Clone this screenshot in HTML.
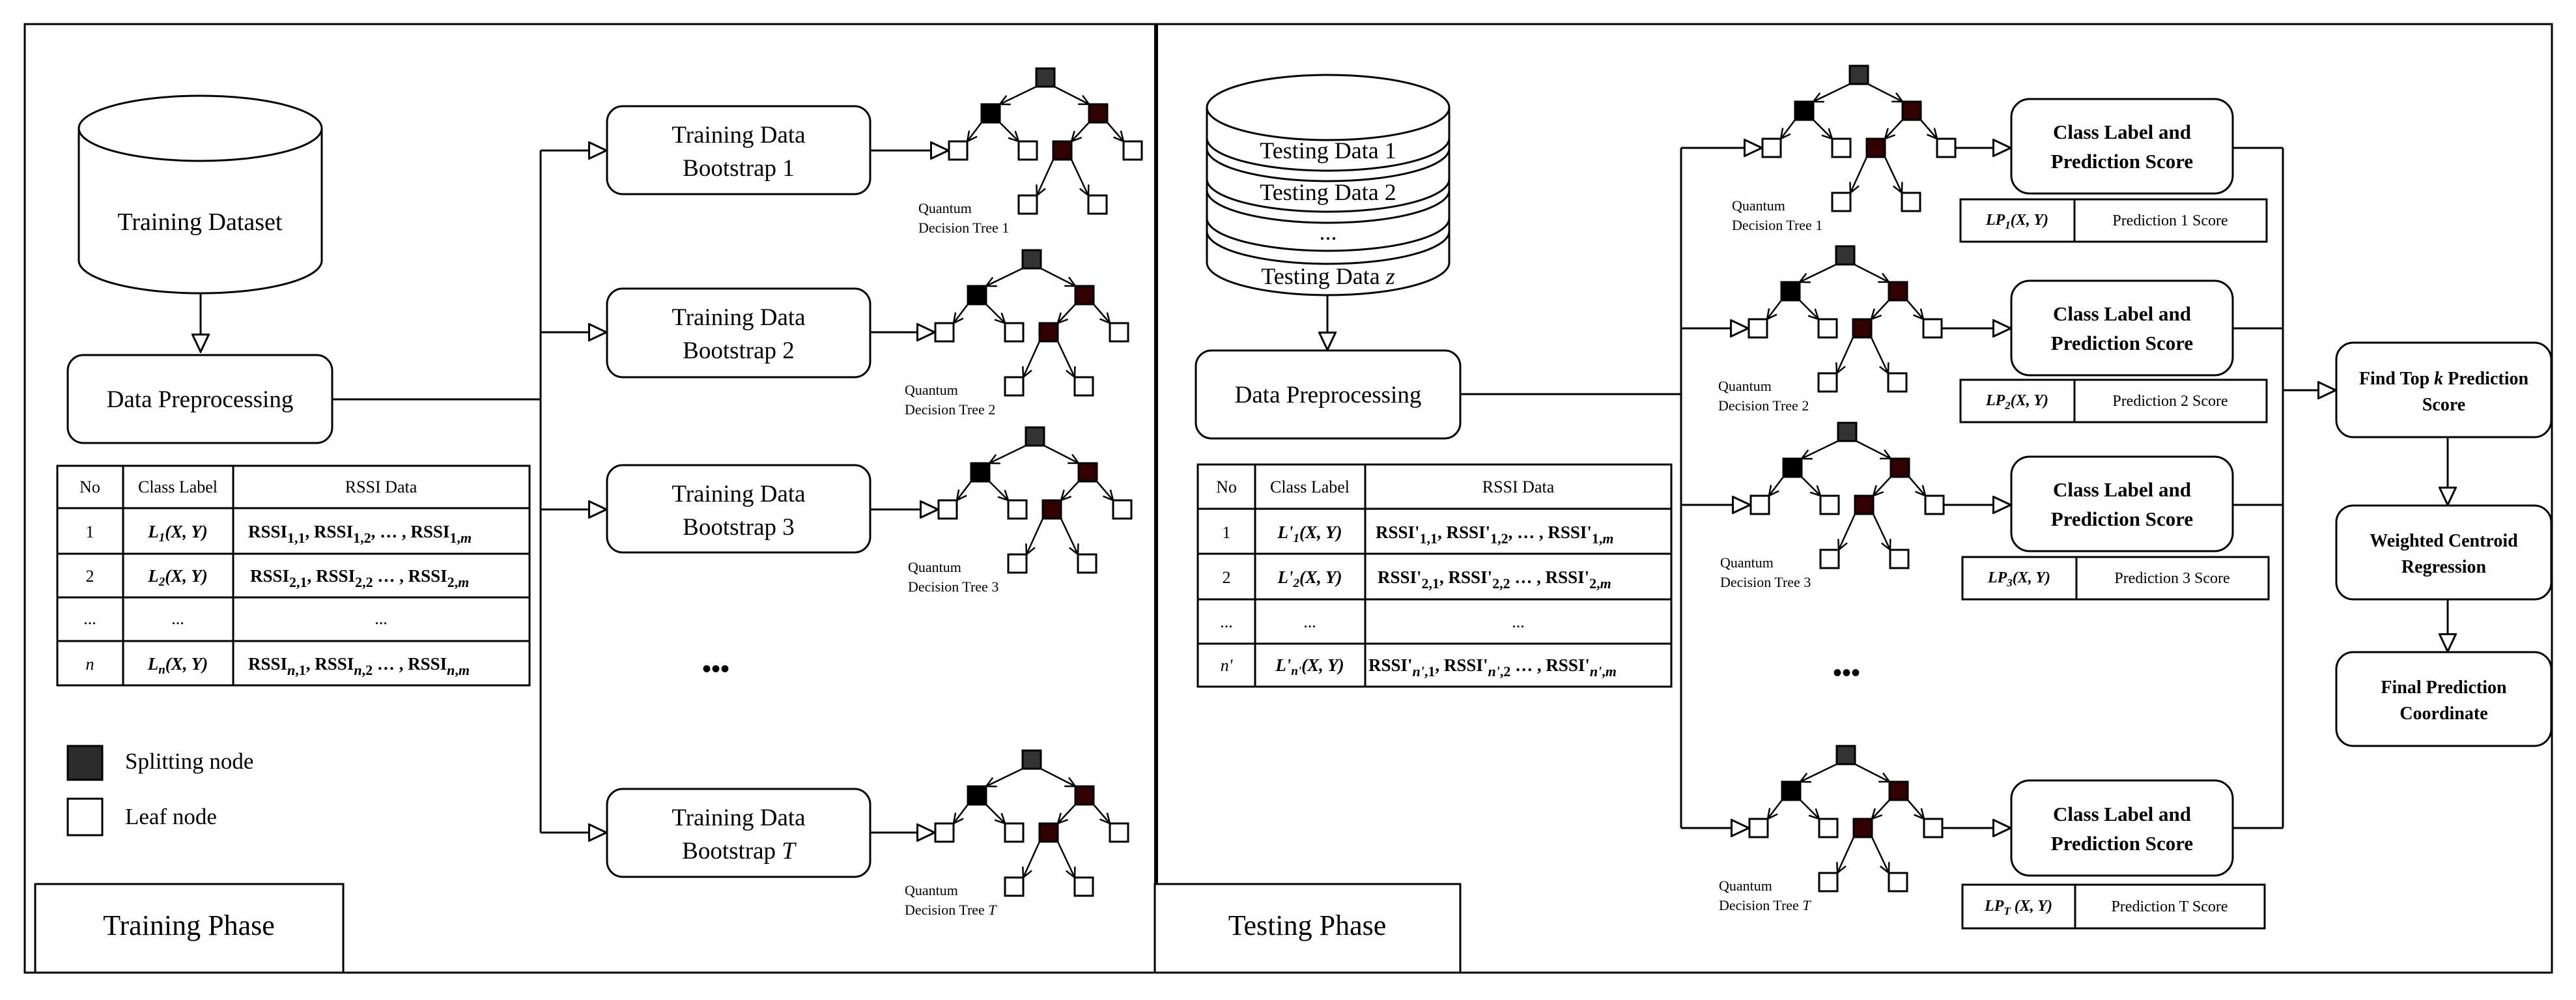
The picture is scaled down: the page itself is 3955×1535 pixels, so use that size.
<!DOCTYPE html>
<html><head><meta charset="utf-8"><style>
html,body{margin:0;padding:0;background:#fff;font-family:"Liberation Serif","DejaVu Serif",serif;}
svg{display:block;font-family:"Liberation Serif","DejaVu Serif",serif;}
svg text{font-family:"Liberation Serif","DejaVu Serif",serif;fill:#000;}
</style></head><body>
<svg width="3955" height="1535" viewBox="0 0 3955 1535" xmlns="http://www.w3.org/2000/svg" font-family="Liberation Serif, DejaVu Serif, serif">
<defs>
<marker id="tri" viewBox="0 0 30 28" refX="29" refY="14" markerWidth="30" markerHeight="28" markerUnits="userSpaceOnUse" orient="auto"><path d="M1.5,1.5 L28,14 L1.5,26.5 Z" fill="#fff" stroke="#000" stroke-width="3"/></marker>
<marker id="opn" viewBox="0 0 18 18" refX="16" refY="9" markerWidth="18" markerHeight="18" markerUnits="userSpaceOnUse" orient="auto"><path d="M1,1.5 L16,9 L1,16.5" fill="none" stroke="#000" stroke-width="2.5"/></marker>
<g id="tree" stroke="#000" stroke-width="3">
<g marker-end="url(#opn)" stroke-width="2.5">
<line x1="134" y1="-98" x2="78" y2="-71"/><line x1="162" y1="-98" x2="215" y2="-71"/>
<line x1="50" y1="-43" x2="28" y2="-14"/><line x1="78" y1="-43" x2="107" y2="-14"/>
<line x1="215" y1="-43" x2="188" y2="-14"/><line x1="243" y1="-43" x2="268" y2="-14"/>
<line x1="160" y1="14" x2="135" y2="69"/><line x1="188" y1="14" x2="214" y2="69"/>
</g>
<rect x="134" y="-126" width="28" height="28" fill="#333"/>
<rect x="50" y="-71" width="28" height="28" fill="#000"/>
<rect x="215" y="-71" width="28" height="28" fill="#300"/>
<rect x="0" y="-14" width="28" height="28" fill="#fff"/>
<rect x="107" y="-14" width="28" height="28" fill="#fff"/>
<rect x="160" y="-14" width="28" height="28" fill="#300"/>
<rect x="268" y="-14" width="28" height="28" fill="#fff"/>
<rect x="107" y="69" width="28" height="28" fill="#fff"/>
<rect x="214" y="69" width="28" height="28" fill="#fff"/>
</g>
</defs>

<rect x="38" y="37" width="1737" height="1456" fill="none" stroke="#000" stroke-width="3"/>
<rect x="1775" y="37" width="2143" height="1456" fill="none" stroke="#000" stroke-width="3"/>
<line x1="1775" y1="37" x2="1775" y2="1493" stroke="#000" stroke-width="6"/>

<rect x="54" y="1357" width="473" height="136" fill="#fff" stroke="#000" stroke-width="3"/>
<text x="290" y="1435" font-size="44" text-anchor="middle">Training Phase</text>
<rect x="1773" y="1357" width="469" height="136" fill="#fff" stroke="#000" stroke-width="3"/>
<text x="2007" y="1435" font-size="44" text-anchor="middle">Testing Phase</text>

<g stroke="#000" stroke-width="3" fill="#fff">
<path d="M121,197 V400 A186,50 0 0 0 494,400 V197"/>
<ellipse cx="307.5" cy="197" rx="186.5" ry="50"/>
</g>
<text x="307" y="353" font-size="38" text-anchor="middle">Training Dataset</text>
<path d="M308,450 V541" stroke="#000" stroke-width="3" fill="none" marker-end="url(#tri)"/>
<rect x="104" y="545" width="406" height="135" rx="24" fill="#fff" stroke="#000" stroke-width="3"/>
<text x="307" y="625" font-size="37" text-anchor="middle">Data Preprocessing</text>

<g stroke="#000" stroke-width="3" fill="none">
<path d="M510,613 H830"/>
<path d="M830,231 V1278"/>
<path d="M830,231 H932" marker-end="url(#tri)"/>
<path d="M830,510 H932" marker-end="url(#tri)"/>
<path d="M830,782 H932" marker-end="url(#tri)"/>
<path d="M830,1278 H932" marker-end="url(#tri)"/>
<path d="M1336,231 H1457" marker-end="url(#tri)"/>
<path d="M1336,510 H1436" marker-end="url(#tri)"/>
<path d="M1336,782 H1441" marker-end="url(#tri)"/>
<path d="M1336,1278 H1436" marker-end="url(#tri)"/>
</g>
<g fill="#fff" stroke="#000" stroke-width="3">
<rect x="932" y="163" width="404" height="135" rx="24"/>
<rect x="932" y="443" width="404" height="136" rx="24"/>
<rect x="932" y="714" width="404" height="134" rx="24"/>
<rect x="932" y="1211" width="404" height="135" rx="24"/>
</g>
<g font-size="37" text-anchor="middle">
<text x="1134" y="219">Training Data</text><text x="1134" y="270">Bootstrap 1</text>
<text x="1134" y="499">Training Data</text><text x="1134" y="550">Bootstrap 2</text>
<text x="1134" y="770">Training Data</text><text x="1134" y="821">Bootstrap 3</text>
<text x="1134" y="1267">Training Data</text><text x="1134" y="1318">Bootstrap <tspan font-style="italic">T</tspan></text>
</g>
<use href="#tree" transform="translate(1457,231)"/>
<use href="#tree" transform="translate(1436,510)"/>
<use href="#tree" transform="translate(1441,782)"/>
<use href="#tree" transform="translate(1436,1278)"/>
<g font-size="22">
<text x="1410" y="327">Quantum</text><text x="1410" y="357">Decision Tree 1</text>
<text x="1389" y="606">Quantum</text><text x="1389" y="636">Decision Tree 2</text>
<text x="1394" y="878">Quantum</text><text x="1394" y="908">Decision Tree 3</text>
<text x="1389" y="1374">Quantum</text><text x="1389" y="1404">Decision Tree <tspan font-style="italic">T</tspan></text>
</g>
<text x="1099" y="1040" font-size="40" font-weight="bold" text-anchor="middle">•••</text>

<g stroke="#000" stroke-width="3" fill="none">
<rect x="88" y="715" width="725" height="337"/>
<line x1="88" y1="780" x2="813" y2="780"/><line x1="88" y1="850" x2="813" y2="850"/>
<line x1="88" y1="917" x2="813" y2="917"/><line x1="88" y1="984" x2="813" y2="984"/>
<line x1="189" y1="715" x2="189" y2="1052"/><line x1="358" y1="715" x2="358" y2="1052"/>
</g>
<g font-size="26" text-anchor="middle">
<text x="138" y="756">No</text><text x="273" y="756">Class Label</text><text x="585" y="756">RSSI Data</text>
<text x="138" y="825">1</text><text x="138" y="893">2</text><text x="138" y="958">...</text><text x="273" y="958">...</text><text x="585" y="958">...</text>
<text x="138" y="1028" font-style="italic">n</text>
</g>
<g font-size="27" font-weight="bold" font-style="italic" text-anchor="middle">
<text x="273" y="825">L<tspan font-size="19" dy="6">1</tspan><tspan dy="-6">(X, Y)</tspan></text>
<text x="273" y="893">L<tspan font-size="19" dy="6">2</tspan><tspan dy="-6">(X, Y)</tspan></text>
<text x="273" y="1028">L<tspan font-size="19" dy="6">n</tspan><tspan dy="-6">(X, Y)</tspan></text>
</g>
<g font-size="27" font-weight="bold">
<text x="381" y="825">RSSI<tspan font-size="22" dy="8">1,1</tspan><tspan dy="-8">, RSSI</tspan><tspan font-size="22" dy="8">1,2</tspan><tspan dy="-8">, … , RSSI</tspan><tspan font-size="22" dy="8">1,<tspan font-style="italic">m</tspan></tspan></text>
<text x="384" y="893">RSSI<tspan font-size="22" dy="8">2,1</tspan><tspan dy="-8">, RSSI</tspan><tspan font-size="22" dy="8">2,2</tspan><tspan dy="-8"> … , RSSI</tspan><tspan font-size="22" dy="8">2,<tspan font-style="italic">m</tspan></tspan></text>
<text x="381" y="1028">RSSI<tspan font-size="22" dy="8"><tspan font-style="italic">n</tspan>,1</tspan><tspan dy="-8">, RSSI</tspan><tspan font-size="22" dy="8"><tspan font-style="italic">n</tspan>,2</tspan><tspan dy="-8"> … , RSSI</tspan><tspan font-size="22" dy="8"><tspan font-style="italic">n</tspan>,<tspan font-style="italic">m</tspan></tspan></text>
</g>

<rect x="104" y="1145" width="53" height="52" fill="#2b2b2b" stroke="#000" stroke-width="3"/>
<rect x="104" y="1226" width="53" height="56" fill="#fff" stroke="#000" stroke-width="3"/>
<text x="192" y="1180" font-size="35">Splitting node</text>
<text x="192" y="1265" font-size="35">Leaf node</text>

<g stroke="#000" stroke-width="3" fill="#fff">
<path d="M1853,165 V403 A186,50 0 0 0 2225,403 V165 Z"/>
<ellipse cx="2039" cy="165" rx="186" ry="50"/>
<g fill="none">
<path d="M1853,212 A186,50 0 0 0 2225,212"/>
<path d="M1853,228 A186,50 0 0 0 2225,228"/>
<path d="M1853,275 A186,50 0 0 0 2225,275"/>
<path d="M1853,292 A186,50 0 0 0 2225,292"/>
<path d="M1853,335 A186,50 0 0 0 2225,335"/>
<path d="M1853,355 A186,50 0 0 0 2225,355"/>
</g>
</g>
<g font-size="36" text-anchor="middle">
<text x="2039" y="243">Testing Data 1</text>
<text x="2039" y="307">Testing Data 2</text>
<text x="2039" y="368">...</text>
<text x="2039" y="436">Testing Data <tspan font-style="italic">z</tspan></text>
</g>
<path d="M2038,453 V538" stroke="#000" stroke-width="3" fill="none" marker-end="url(#tri)"/>
<rect x="1836" y="538" width="406" height="135" rx="24" fill="#fff" stroke="#000" stroke-width="3"/>
<text x="2039" y="618" font-size="37" text-anchor="middle">Data Preprocessing</text>

<g stroke="#000" stroke-width="3" fill="none">
<path d="M2242,605 H2581"/>
<path d="M2581,227 V1271"/>
<path d="M2581,227 H2706" marker-end="url(#tri)"/>
<path d="M2581,504 H2685" marker-end="url(#tri)"/>
<path d="M2581,775 H2688" marker-end="url(#tri)"/>
<path d="M2581,1271 H2686" marker-end="url(#tri)"/>
<path d="M3002,227 H3088" marker-end="url(#tri)"/>
<path d="M2981,504 H3088" marker-end="url(#tri)"/>
<path d="M2984,775 H3088" marker-end="url(#tri)"/>
<path d="M2982,1271 H3088" marker-end="url(#tri)"/>
<path d="M3428,227 H3505 M3428,504 H3505 M3428,775 H3505 M3428,1271 H3505"/>
<path d="M3505,227 V1271"/>
<path d="M3505,599 H3587" marker-end="url(#tri)"/>
<path d="M3758,671 V776" marker-end="url(#tri)"/>
<path d="M3758,920 V1001" marker-end="url(#tri)"/>
</g>
<use href="#tree" transform="translate(2706,227)"/>
<use href="#tree" transform="translate(2685,504)"/>
<use href="#tree" transform="translate(2688,775)"/>
<use href="#tree" transform="translate(2686,1271)"/>
<g font-size="22">
<text x="2659" y="323">Quantum</text><text x="2659" y="353">Decision Tree 1</text>
<text x="2638" y="600">Quantum</text><text x="2638" y="630">Decision Tree 2</text>
<text x="2641" y="871">Quantum</text><text x="2641" y="901">Decision Tree 3</text>
<text x="2639" y="1367">Quantum</text><text x="2639" y="1397">Decision Tree <tspan font-style="italic">T</tspan></text>
</g>
<text x="2835" y="1046" font-size="40" font-weight="bold" text-anchor="middle">•••</text>

<g stroke="#000" stroke-width="3" fill="none">
<rect x="1839" y="713" width="727" height="341"/>
<line x1="1839" y1="781" x2="2566" y2="781"/><line x1="1839" y1="850" x2="2566" y2="850"/>
<line x1="1839" y1="920" x2="2566" y2="920"/><line x1="1839" y1="988" x2="2566" y2="988"/>
<line x1="1927" y1="713" x2="1927" y2="1054"/><line x1="2096" y1="713" x2="2096" y2="1054"/>
</g>
<g font-size="26" text-anchor="middle">
<text x="1883" y="756">No</text><text x="2011" y="756">Class Label</text><text x="2331" y="756">RSSI Data</text>
<text x="1883" y="826">1</text><text x="1883" y="895">2</text><text x="1883" y="963">...</text><text x="2011" y="963">...</text><text x="2331" y="963">...</text>
<text x="1883" y="1030" font-style="italic">n'</text>
</g>
<g font-size="27" font-weight="bold" font-style="italic" text-anchor="middle">
<text x="2011" y="826">L'<tspan font-size="19" dy="6">1</tspan><tspan dy="-6">(X, Y)</tspan></text>
<text x="2011" y="895">L'<tspan font-size="19" dy="6">2</tspan><tspan dy="-6">(X, Y)</tspan></text>
<text x="2011" y="1030">L'<tspan font-size="19" dy="6">n'</tspan><tspan dy="-6">(X, Y)</tspan></text>
</g>
<g font-size="27" font-weight="bold">
<text x="2112" y="826">RSSI'<tspan font-size="22" dy="8">1,1</tspan><tspan dy="-8">, RSSI'</tspan><tspan font-size="22" dy="8">1,2</tspan><tspan dy="-8">, … , RSSI'</tspan><tspan font-size="22" dy="8">1,<tspan font-style="italic">m</tspan></tspan></text>
<text x="2115" y="895">RSSI'<tspan font-size="22" dy="8">2,1</tspan><tspan dy="-8">, RSSI'</tspan><tspan font-size="22" dy="8">2,2</tspan><tspan dy="-8"> … , RSSI'</tspan><tspan font-size="22" dy="8">2,<tspan font-style="italic">m</tspan></tspan></text>
<text x="2101" y="1030">RSSI'<tspan font-size="22" dy="8"><tspan font-style="italic">n'</tspan>,1</tspan><tspan dy="-8">, RSSI'</tspan><tspan font-size="22" dy="8"><tspan font-style="italic">n'</tspan>,2</tspan><tspan dy="-8"> … , RSSI'</tspan><tspan font-size="22" dy="8"><tspan font-style="italic">n'</tspan>,<tspan font-style="italic">m</tspan></tspan></text>
</g>

<g fill="#fff" stroke="#000" stroke-width="3">
<rect x="3088" y="152" width="340" height="145" rx="28"/>
<rect x="3088" y="431" width="340" height="145" rx="28"/>
<rect x="3088" y="701" width="340" height="145" rx="28"/>
<rect x="3088" y="1198" width="340" height="146" rx="28"/>
</g>
<g font-size="31" font-weight="bold" text-anchor="middle">
<text x="3258" y="213">Class Label and</text><text x="3258" y="258">Prediction Score</text>
<text x="3258" y="492">Class Label and</text><text x="3258" y="537">Prediction Score</text>
<text x="3258" y="762">Class Label and</text><text x="3258" y="807">Prediction Score</text>
<text x="3258" y="1260">Class Label and</text><text x="3258" y="1305">Prediction Score</text>
</g>
<g stroke="#000" stroke-width="3" fill="#fff">
<rect x="3010" y="306" width="470" height="65"/><line x1="3185" y1="306" x2="3185" y2="371"/>
<rect x="3010" y="583" width="470" height="65"/><line x1="3185" y1="583" x2="3185" y2="648"/>
<rect x="3013" y="855" width="470" height="65"/><line x1="3188" y1="855" x2="3188" y2="920"/>
<rect x="3013" y="1358" width="464" height="67"/><line x1="3186" y1="1358" x2="3186" y2="1425"/>
</g>
<g font-size="24" font-weight="bold" font-style="italic" text-anchor="middle">
<text x="3097" y="345">LP<tspan font-size="17" dy="6">1</tspan><tspan dy="-6">(X, Y)</tspan></text>
<text x="3097" y="622">LP<tspan font-size="17" dy="6">2</tspan><tspan dy="-6">(X, Y)</tspan></text>
<text x="3100" y="894">LP<tspan font-size="17" dy="6">3</tspan><tspan dy="-6">(X, Y)</tspan></text>
<text x="3099" y="1398">LP<tspan font-size="17" dy="6">T</tspan><tspan dy="-6"> (X, Y)</tspan></text>
</g>
<g font-size="24" text-anchor="middle">
<text x="3332" y="346">Prediction 1 Score</text>
<text x="3332" y="623">Prediction 2 Score</text>
<text x="3335" y="895">Prediction 3 Score</text>
<text x="3331" y="1399">Prediction T Score</text>
</g>

<g fill="#fff" stroke="#000" stroke-width="3">
<rect x="3587" y="526" width="330" height="145" rx="26"/>
<rect x="3587" y="776" width="330" height="144" rx="26"/>
<rect x="3587" y="1001" width="330" height="144" rx="26"/>
</g>
<g font-size="28" font-weight="bold" text-anchor="middle">
<text x="3752" y="590">Find Top <tspan font-style="italic">k</tspan> Prediction</text><text x="3752" y="630">Score</text>
<text x="3752" y="839">Weighted Centroid</text><text x="3752" y="879">Regression</text>
<text x="3752" y="1064">Final Prediction</text><text x="3752" y="1104">Coordinate</text>
</g>
</svg>
</body></html>
